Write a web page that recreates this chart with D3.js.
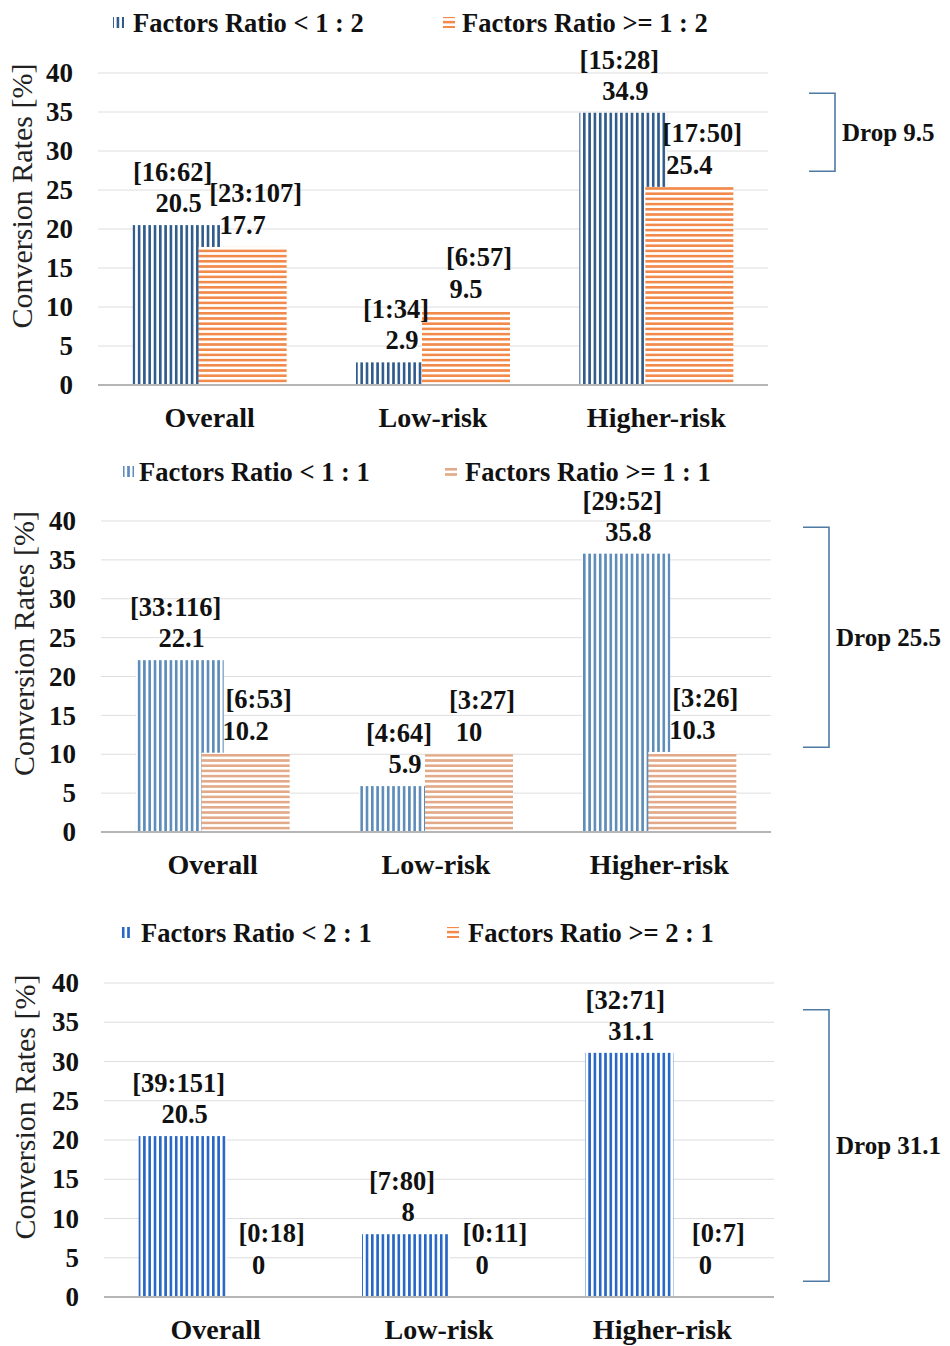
<!DOCTYPE html>
<html>
<head>
<meta charset="utf-8">
<script src="https://cdn.jsdelivr.net/npm/d3@7"></script>
<style>
  html, body { margin: 0; padding: 0; background: #fff; }
  svg { display: block; }
  text { font-family: "Liberation Serif", "Times New Roman", serif; }
</style>
</head>
<body>
<svg id="chart" width="950" height="1346"></svg>
<script>
// ---------------- DATA ----------------
const categories = ["Overall", "Low-risk", "Higher-risk"];
const yTicks = [0, 5, 10, 15, 20, 25, 30, 35, 40];

const legendLow  = ["Factors Ratio < 1 : 2", "Factors Ratio < 1 : 1", "Factors Ratio < 2 : 1"];
const legendHigh = ["Factors Ratio >= 1 : 2", "Factors Ratio >= 1 : 1", "Factors Ratio >= 2 : 1"];

const lowValues  = [[20.5, 2.9, 34.9], [22.1, 5.9, 35.8], [20.5, 8, 31.1]];
const highValues = [[17.7, 9.5, 25.4], [10.2, 10, 10.3], [0, 0, 0]];

const lowCounts  = [["[16:62]", "[1:34]", "[15:28]"], ["[33:116]", "[4:64]", "[29:52]"], ["[39:151]", "[7:80]", "[32:71]"]];
const highCounts = [["[23:107]", "[6:57]", "[17:50]"], ["[6:53]", "[3:27]", "[3:26]"], ["[0:18]", "[0:11]", "[0:7]"]];

const dropLabels   = ["Drop 9.5", "Drop 25.5", "Drop 31.1"];
const bracketFrom  = [37.4, 39.2, 36.6];
const bracketTo    = [27.4, 10.9, 2.0];

const yTitle = "Conversion Rates [%]";

// ---------------- LAYOUT / STYLE ----------------
const panelLayout = [
  { top: 73,  bottom: 385,  shift: 0, bracketX: 835, legendY: 23,  leg1: 113, leg1Text: 133, leg2: 443, leg2Text: 462,
    blue: "#2f5a8c", orange: "#f28a4c" },
  { top: 521, bottom: 832,  shift: 3, bracketX: 829, legendY: 472, leg1: 123, leg1Text: 139, leg2: 445, leg2Text: 465,
    blue: "#5d8bba", orange: "#e2aa88" },
  { top: 983, bottom: 1297, shift: 6, bracketX: 829, legendY: 933, leg1: 120, leg1Text: 141, leg2: 447, leg2Text: 468,
    blue: "#2766c6", orange: "#f28a4c" }
];
const FS = 26.5;

const svg = d3.select("#chart");
const defs = svg.append("defs");

panelLayout.forEach((L, i) => {
  const pv = defs.append("pattern").attr("id", "vstripe" + i)
    .attr("patternUnits", "userSpaceOnUse").attr("width", 5.3).attr("height", 10);
  pv.append("rect").attr("width", 5.3).attr("height", 10).attr("fill", "#fff");
  pv.append("rect").attr("x", 0).attr("width", 2.6).attr("height", 10).attr("fill", L.blue);

  const ph = defs.append("pattern").attr("id", "hstripe" + i)
    .attr("patternUnits", "userSpaceOnUse").attr("width", 10).attr("height", 5.2);
  ph.append("rect").attr("width", 10).attr("height", 5.2).attr("fill", "#fff");
  ph.append("rect").attr("y", 0).attr("width", 10).attr("height", 2.6).attr("fill", L.orange);
});

panelLayout.forEach((L, p) => {
  const g = svg.append("g");
  const plotLeft = 98 + L.shift, plotRight = 768 + L.shift;

  const x = d3.scaleBand().domain(categories).range([plotLeft, plotRight]);
  const y = d3.scaleLinear().domain([0, 40]).range([L.bottom, L.top]);

  // gridlines
  g.append("g").selectAll("line").data(yTicks.filter(t => t > 0)).join("line")
    .attr("x1", plotLeft).attr("x2", plotRight)
    .attr("y1", d => y(d)).attr("y2", d => y(d))
    .attr("stroke", "#dedede").attr("stroke-width", 1);

  // y axis tick labels
  const yAxis = d3.axisLeft(y).tickValues(yTicks).tickSize(0).tickPadding(0);
  const ya = g.append("g").attr("transform", `translate(${plotLeft - 25},0)`).call(yAxis);
  ya.select(".domain").remove();
  ya.selectAll("text").attr("font-family", "Liberation Serif").attr("font-weight", "bold")
    .attr("font-size", 27).attr("fill", "#111");

  // y title
  g.append("text")
    .attr("transform", `translate(${32 + L.shift / 2},${(L.top + L.bottom) / 2 - 33}) rotate(-90)`)
    .attr("text-anchor", "middle").attr("font-size", 30).attr("fill", "#222")
    .text(yTitle);

  const groupHalf = 77, barW = 88;
  const cx = c => x(c) + x.bandwidth() / 2;

  // blue bars
  g.append("g").selectAll("rect").data(categories).join("rect")
    .attr("x", c => cx(c) - groupHalf)
    .attr("width", barW)
    .attr("y", (c, i) => y(lowValues[p][i]))
    .attr("height", (c, i) => y(0) - y(lowValues[p][i]))
    .attr("fill", `url(#vstripe${p})`);

  // orange bars
  g.append("g").selectAll("rect").data(categories).join("rect")
    .attr("x", c => cx(c) + groupHalf - barW)
    .attr("width", barW)
    .attr("y", (c, i) => y(highValues[p][i]))
    .attr("height", (c, i) => y(0) - y(highValues[p][i]))
    .attr("fill", `url(#hstripe${p})`);

  // x axis line
  g.append("line").attr("x1", plotLeft).attr("x2", plotRight)
    .attr("y1", y(0)).attr("y2", y(0)).attr("stroke", "#b5b5b5").attr("stroke-width", 2);

  // category labels
  const xAxis = d3.axisBottom(x).tickSize(0).tickPadding(0);
  const xa = g.append("g").attr("transform", `translate(0,${y(0) + 22})`).call(xAxis);
  xa.select(".domain").remove();
  xa.selectAll("text").attr("font-family", "Liberation Serif").attr("font-weight", "bold")
    .attr("font-size", 28).attr("fill", "#111");

  // value + count labels
  const labelG = g.append("g").attr("font-weight", "bold").attr("font-size", FS)
    .attr("text-anchor", "middle").attr("fill", "#111");
  categories.forEach((c, i) => {
    const bx = cx(c) - groupHalf + barW / 2;
    const ox = cx(c) + groupHalf - barW / 2;
    const lv = lowValues[p][i], hv = highValues[p][i];
    const ly = y(lv) - 13;
    labelG.append("text").attr("x", bx + 2).attr("y", ly).text(String(lv));
    labelG.append("text").attr("x", bx - 4).attr("y", ly - 31).text(lowCounts[p][i]);
    const hy = y(hv) - (hv === 0 ? 23 : 13);
    const hoff = hv === 0 ? 10 : 0;
    labelG.append("text").attr("x", ox + hoff).attr("y", hy).text(String(hv));
    labelG.append("text").attr("x", ox + hoff + 13).attr("y", hy - 32).text(highCounts[p][i]);
  });

  // legend
  const lg = g.append("g");
  const ly0 = L.legendY;
  lg.append("rect").attr("x", L.leg1).attr("y", ly0 - 6).attr("width", 11).attr("height", 11)
    .attr("fill", `url(#vstripe${p})`);
  lg.append("text").attr("x", L.leg1Text).attr("y", ly0 + 9).attr("font-weight", "bold")
    .attr("font-size", FS).attr("fill", "#111").text(legendLow[p]);
  lg.append("rect").attr("x", L.leg2).attr("y", ly0 - 6).attr("width", 12).attr("height", 11)
    .attr("fill", `url(#hstripe${p})`);
  lg.append("text").attr("x", L.leg2Text).attr("y", ly0 + 9).attr("font-weight", "bold")
    .attr("font-size", FS).attr("fill", "#111").text(legendHigh[p]);

  // drop bracket
  const bt = y(bracketFrom[p]), bb = y(bracketTo[p]);
  g.append("path")
    .attr("d", `M${L.bracketX - 26},${bt} H${L.bracketX} V${bb} H${L.bracketX - 26}`)
    .attr("fill", "none").attr("stroke", "#4f7aa6").attr("stroke-width", 1.6);
  g.append("text").attr("x", L.bracketX + 7).attr("y", (bt + bb) / 2 + 9)
    .attr("font-weight", "bold").attr("font-size", 25).attr("fill", "#111")
    .text(dropLabels[p]);
});
</script>
</body>
</html>
